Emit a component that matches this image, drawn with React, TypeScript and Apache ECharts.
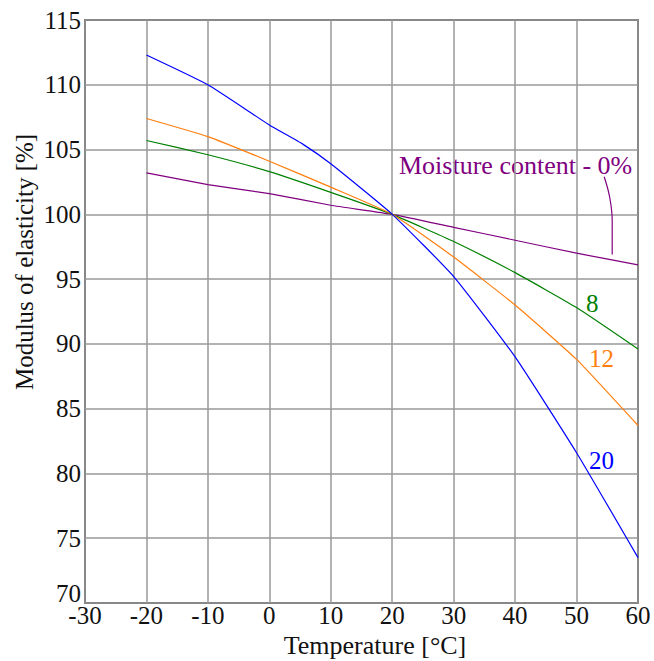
import React, { useEffect, useRef } from "react";
import * as echarts from "echarts";

const FONT = "Liberation Serif";

// Temperature [°C] sample points for each curve
const tempsMain = [-20, -10, 0, 10, 20, 30, 40, 50, 60];
const tempsBlue = [-20, -10, 0, 5.5, 10, 20, 30, 40, 50, 60];

// Modulus of elasticity [%] per moisture content
const mc0 = [103.2, 102.3, 101.6, 100.7, 100.0, 99.0, 98.0, 97.0, 96.1];
const mc8 = [105.7, 104.6, 103.3, 101.7, 100.0, 97.9, 95.5, 92.8, 89.6];
const mc12 = [107.4, 106.0, 104.1, 102.1, 100.0, 96.7, 93.0, 88.8, 83.7];
const mc20 = [112.3, 110.0, 106.9, 105.4, 103.9, 100.0, 95.2, 89.0, 81.6, 73.5];

// Leader line from the "Moisture content - 0%" label to the 0% curve
const leaderX = [54.5, 55.4, 55.8, 55.8];
const leaderY = [102.9, 101.3, 99.5, 96.9];

const seriesNames = ["0%", "8%", "12%", "20%"];
const seriesColors = ["#800080", "#008000", "#ff7f0e", "#0000ff"];

const xMin = -30;
const xMax = 60;
const xStep = 10;
const yMin = 70;
const yMax = 115;
const yStep = 5;

const pair = (xs: number[], ys: number[]) => xs.map((x, i) => [x, ys[i]]);

export default function App() {
  const ref = useRef<HTMLDivElement>(null);

  useEffect(() => {
    if (!ref.current) return;
    const chart = echarts.init(ref.current, null, { renderer: "svg" });
    const lineSeries = (name: string, data: number[][], color: string) => ({
      name,
      type: "line",
      data,
      showSymbol: false,
      symbol: "none",
      smooth: 0.15,
      lineStyle: { color, width: 1.2 },
      z: 3,
    });
    const label = (text: string, x: number, y: number, color: string, size = 25) => ({
      type: "text",
      x,
      y,
      style: {
        text,
        fill: color,
        fontFamily: FONT,
        fontSize: size,
        align: "left",
        verticalAlign: "middle",
      },
    });
    chart.setOption({
      animation: false,
      grid: {
        left: 85,
        right: 16,
        top: 20,
        bottom: 58,
        show: true,
        borderColor: "#222",
        borderWidth: 1.5,
      },
      xAxis: {
        type: "value",
        min: xMin,
        max: xMax,
        interval: xStep,
        axisLine: { show: false },
        axisTick: { show: false },
        splitLine: { show: true, lineStyle: { color: "#999", width: 1.5 } },
        axisLabel: {
          margin: 2,
          color: "#111",
          fontFamily: FONT,
          fontSize: 25,
          lineHeight: 20,
        },
      },
      yAxis: {
        type: "value",
        min: yMin,
        max: yMax,
        interval: yStep,
        axisLine: { show: false },
        axisTick: { show: false },
        splitLine: { show: true, lineStyle: { color: "#999", width: 1.5 } },
        axisLabel: {
          margin: 4,
          color: "#111",
          fontFamily: FONT,
          fontSize: 25,
          lineHeight: 20,
          formatter: (v: number) => (v === yMin ? "{low|" + v + "}" : String(v)),
          rich: {
            low: {
              fontFamily: FONT,
              fontSize: 25,
              lineHeight: 20,
              color: "#111",
              padding: [0, 0, 20, 0],
            },
          },
        },
      },
      series: [
        lineSeries(seriesNames[0], pair(tempsMain, mc0), seriesColors[0]),
        lineSeries(seriesNames[1], pair(tempsMain, mc8), seriesColors[1]),
        lineSeries(seriesNames[2], pair(tempsMain, mc12), seriesColors[2]),
        lineSeries(seriesNames[3], pair(tempsBlue, mc20), seriesColors[3]),
        {
          name: "leader",
          type: "line",
          data: pair(leaderX, leaderY),
          showSymbol: false,
          symbol: "none",
          smooth: 0.4,
          lineStyle: { color: seriesColors[0], width: 1.2 },
          z: 3,
        },
      ],
      graphic: [
        label("Moisture content - 0%", 399, 165.5, seriesColors[0], 26),
        label("8", 586, 303, seriesColors[1]),
        label("12", 589, 358.5, seriesColors[2]),
        label("20", 589, 460, seriesColors[3]),
        {
          type: "text",
          x: 375,
          y: 645.5,
          style: {
            text: "Temperature [°C]",
            fill: "#111",
            fontFamily: FONT,
            fontSize: 26,
            lineHeight: 18,
            align: "center",
            verticalAlign: "middle",
          },
        },
        {
          type: "text",
          x: 24.5,
          y: 262,
          rotation: Math.PI / 2,
          style: {
            text: "Modulus of elasticity [%]",
            fill: "#111",
            fontFamily: FONT,
            fontSize: 25,
            align: "center",
            verticalAlign: "middle",
          },
        },
      ],
    });
    return () => chart.dispose();
  }, []);

  return (
    <div
      ref={ref}
      style={{ position: "absolute", left: 0, top: 0, width: 654, height: 661 }}
    />
  );
}
